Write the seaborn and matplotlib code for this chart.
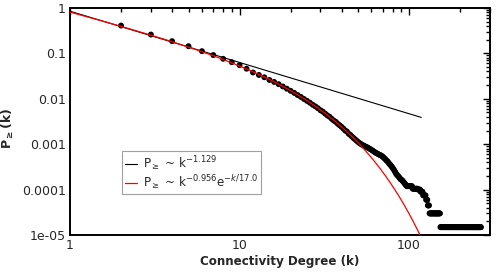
import numpy as np
import pandas as pd
import matplotlib
matplotlib.use("Agg")
import matplotlib.pyplot as plt
import seaborn as sns
from matplotlib.ticker import LogLocator, FixedLocator, FixedFormatter, NullFormatter

# cumulative degree distribution P>=(k), one value per integer degree
degree = np.arange(2, 266)
p_head = [0.41, 0.26, 0.186, 0.144, 0.112, 0.092, 0.076, 0.064, 0.055, 0.046,
          0.038, 0.0335, 0.0298, 0.026, 0.0235, 0.021]
p_body = [0.0187, 0.0167, 0.0150, 0.0135, 0.0121, 0.0110, 0.0099, 0.0090,
          0.0082, 0.0074, 0.0068, 0.0062, 0.0056, 0.0052, 0.0047, 0.0043,
          0.0040, 0.0036, 0.0033, 0.0031, 0.0028, 0.0026, 0.0024, 0.0022,
          0.0020, 0.0019, 0.0017, 0.0016, 0.00147, 0.00137, 0.00128, 0.00120,
          0.00112]
p_bend = [0.00106, 0.00101, 0.00096, 0.00093, 0.00090, 0.00087, 0.00084,
          0.00081, 0.00078, 0.00075, 0.00072, 0.00069, 0.00066, 0.00064,
          0.00062, 0.00060, 0.00058, 0.00057, 0.00055, 0.00053, 0.00050,
          0.00048, 0.00045, 0.00043, 0.00041, 0.00038, 0.00036, 0.00034,
          0.00032, 0.00030, 0.00028, 0.00026, 0.00024, 0.00022, 0.00021,
          0.00020, 0.00019, 0.00018, 0.00017, 0.000165, 0.00016, 0.000152,
          0.000145, 0.000138, 0.000131, 0.000124]
p_tail = ([1.19e-4] * 8 + [1.045e-4] * 8 + [1.0e-4] * 4 + [8.96e-5] * 4
          + [7.46e-5] * 5 + [5.97e-5] * 3 + [4.48e-5] * 3 + [2.99e-5] * 21
          + [1.49e-5] * 113)
p_geq = p_head + p_body + p_bend + p_tail

# fitted models (parameters as shown in the legend)
pl_amp, pl_exp = 0.85, -1.129
pl_kmax = 118
ex_amp, ex_exp, ex_cut = 0.86, -0.956, 17.0
ex_kmax = 125

df = pd.DataFrame({"k": degree, "p": p_geq})
k_pl = np.geomspace(1, pl_kmax, 200)
k_ex = np.geomspace(1, ex_kmax, 300)
fits = pd.DataFrame({"k": k_pl, "p": pl_amp * k_pl ** pl_exp})
fits_ex = pd.DataFrame({"k": k_ex, "p": ex_amp * k_ex ** ex_exp * np.exp(-k_ex / ex_cut)})

sns.set_style("white")
plt.rcParams["font.family"] = ["DejaVu Sans"]
plt.rcParams["mathtext.fontset"] = "dejavusans"

fs = 8.6
fig = plt.figure(figsize=(4.98, 2.75), dpi=100)
ax = fig.add_axes([70 / 498, 40 / 275, 420 / 498, 227 / 275])

sns.scatterplot(data=df, x="k", y="p", color="black", s=18, edgecolor="none",
                ax=ax, zorder=2, legend=False)
sns.lineplot(data=fits, x="k", y="p", color="black", lw=0.8, ax=ax, zorder=3,
             label=r"P$_{\geq}$ ~ k$^{-1.129}$")
sns.lineplot(data=fits_ex, x="k", y="p", color="red", lw=0.9, ax=ax, zorder=4,
             label=r"P$_{\geq}$ ~ k$^{-0.956}$e$^{-k/17.0}$")

ax.set_xscale("log")
ax.set_yscale("log")
ax.set_xlim(1, 300)
ax.set_ylim(1e-5, 1)

ax.xaxis.set_major_locator(FixedLocator([1, 10, 100]))
ax.xaxis.set_major_formatter(FixedFormatter(["1", "10", "100"]))
ax.xaxis.set_minor_locator(LogLocator(base=10, subs=np.arange(2, 10)))
ax.xaxis.set_minor_formatter(NullFormatter())
yt = [1e-5, 1e-4, 1e-3, 1e-2, 1e-1, 1]
ax.yaxis.set_major_locator(FixedLocator(yt))
ax.yaxis.set_major_formatter(FixedFormatter(["1e-05", "0.0001", "0.001",
                                             "0.01", "0.1", "1"]))
ax.yaxis.set_minor_locator(LogLocator(base=10, subs=np.arange(2, 10)))
ax.yaxis.set_minor_formatter(NullFormatter())

ax.tick_params(which="both", direction="in", top=True, right=True,
               labelsize=fs + 0.4, width=1, color="black")
ax.tick_params(which="major", length=5, pad=3)
ax.tick_params(which="minor", length=3)
for s in ax.spines.values():
    s.set_linewidth(1.4)
    s.set_color("black")

ax.set_xlabel("Connectivity Degree (k)", fontsize=fs, fontweight="bold", labelpad=2)
ax.set_ylabel(r"$\mathbf{P_{\geq}(k)}$", fontsize=fs + 0.4)
ax.yaxis.set_label_coords(-0.128, 0.47)

leg = ax.legend(loc="lower left", bbox_to_anchor=(0.124, 0.18), fontsize=fs,
                frameon=True, fancybox=False, edgecolor="#888888",
                handlelength=1.0, handletextpad=0.5, borderpad=0.25,
                labelspacing=0.05, borderaxespad=0)
leg.get_frame().set_linewidth(0.8)

fig.savefig("out.png", dpi=100)
